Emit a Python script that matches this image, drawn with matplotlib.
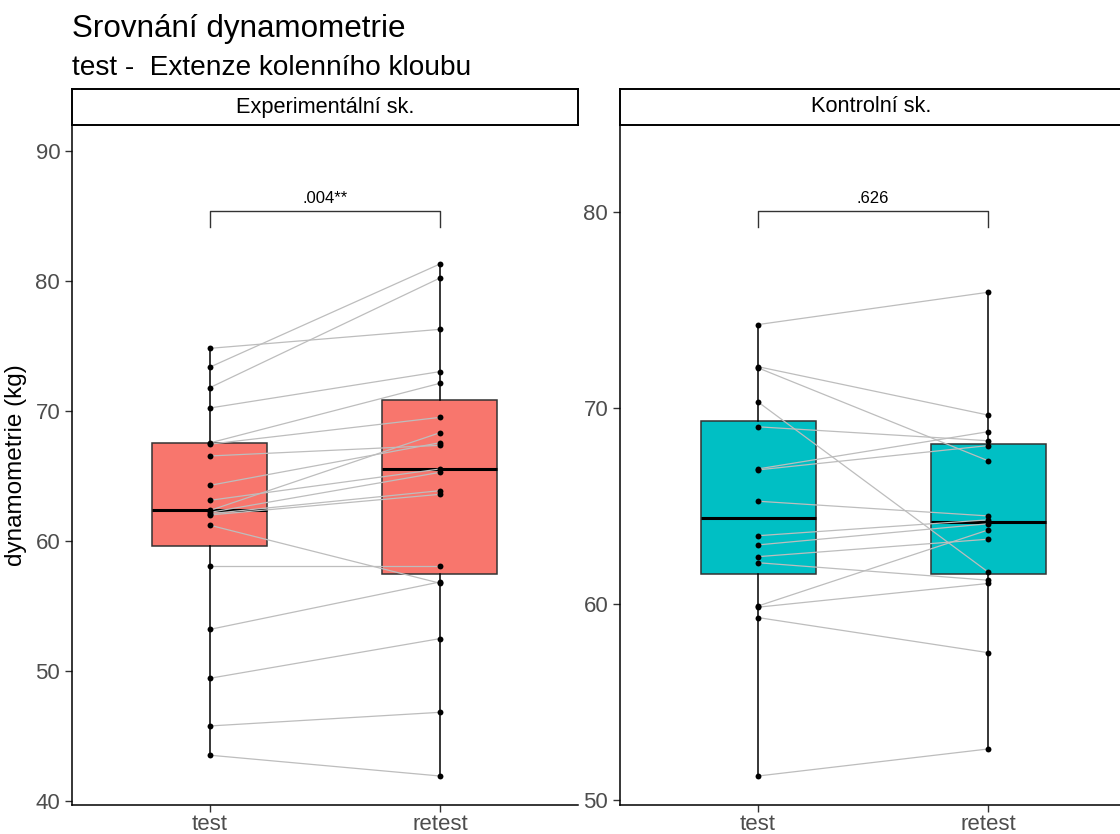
import matplotlib
matplotlib.use("Agg")
import matplotlib.pyplot as plt

plt.rcParams['font.family'] = ['Liberation Sans', 'DejaVu Sans']

# data: paired values (same index = same person)
group_names = ["Experimentální sk.", "Kontrolní sk."]
time_labels = ["test", "retest"]

exp_test = [74.82, 73.38, 71.80, 70.23, 67.55, 67.45, 66.54, 64.28, 63.13, 62.35,
            62.20, 62.10, 62.00, 61.21, 58.08, 53.20, 49.44, 45.77, 43.52]
exp_retest = [76.28, 81.31, 80.23, 73.03, 72.13, 69.51, 67.36, 67.56, 65.54, 68.33,
              65.28, 63.87, 63.59, 56.75, 58.08, 56.85, 52.49, 46.82, 41.92]

ctrl_test = [74.27, 72.12, 72.06, 70.32, 69.05, 66.90, 66.85, 65.25, 63.49, 63.02,
             62.42, 62.11, 59.90, 59.84, 59.31, 51.22]
ctrl_retest = [75.92, 69.65, 67.32, 61.64, 68.34, 68.80, 68.09, 64.50, 64.30, 64.10,
               63.31, 61.22, 63.78, 61.05, 57.52, 52.60]

p_labels = [".004**", ".626"]

# layout / style
colors = ["#F8766D", "#00BFC4"]
ylims = [(39.69, 92.0), (49.74, 84.46)]
yticks = [[40, 50, 60, 70, 80, 90], [50, 60, 70, 80]]
brackets = [(84.15, 85.4), (79.23, 80.07)]

W, H = 1120, 834
fig = plt.figure(figsize=(W / 100, H / 100), dpi=100)

panel_left = [72, 620]
panel_w = 506
top_px, bottom_px = 125, 805

data = [(exp_test, exp_retest), (ctrl_test, ctrl_retest)]

for i in range(2):
    left = panel_left[i] / W
    ax = fig.add_axes([left, 1 - bottom_px / H, panel_w / W, (bottom_px - top_px) / H])
    test, retest = data[i]

    ax.boxplot([test, retest], positions=[1, 2], widths=0.5, whis=(0, 100),
               patch_artist=True, showfliers=False, showcaps=False,
               boxprops=dict(facecolor=colors[i], edgecolor="#333333", linewidth=1.1),
               medianprops=dict(color="black", linewidth=2.2),
               whiskerprops=dict(color="black", linewidth=1.1),
               zorder=1)

    # paired lines
    for a, b in zip(test, retest):
        ax.plot([1, 2], [a, b], color="#BDBDBD", linewidth=0.9, zorder=2)
    ax.scatter([1] * len(test), test, s=18, color="black", zorder=3, linewidths=0)
    ax.scatter([2] * len(retest), retest, s=18, color="black", zorder=3, linewidths=0)

    # significance bracket
    y0, y1 = brackets[i]
    ax.plot([1, 1, 2, 2], [y0, y1, y1, y0], color="#333333", linewidth=1.0, zorder=2)
    ax.text(1.5, y1 + 0.35 * (ylims[i][1] - ylims[i][0]) / 52.3, p_labels[i],
            ha="center", va="bottom", fontsize=12, color="black")

    ax.set_xlim(0.4, 2.6)
    ax.set_ylim(*ylims[i])
    ax.set_xticks([1, 2])
    ax.set_xticklabels(time_labels)
    ax.set_yticks(yticks[i])
    ax.tick_params(axis="both", labelsize=16, labelcolor="#4D4D4D",
                   color="#333333", length=5, width=1)
    ax.tick_params(axis="x", pad=1.5)
    for s in ["top", "right"]:
        ax.spines[s].set_visible(False)
    for s in ["left", "bottom"]:
        ax.spines[s].set_color("black")
        ax.spines[s].set_linewidth(1.1)
    if i == 0:
        ax.set_ylabel("dynamometrie (kg)", fontsize=17.5, labelpad=6)

    # facet strip
    strip_w = (578 - 72) if i == 0 else panel_w
    sax = fig.add_axes([left, 1 - top_px / H, strip_w / W, 36 / H])
    sax.set_xticks([])
    sax.set_yticks([])
    for s in sax.spines.values():
        s.set_color("black")
        s.set_linewidth(1.4)
    sax.text(0.5 if i == 0 else 251 / panel_w, 0.5, group_names[i], ha="center",
             va="center", fontsize=15.7, transform=sax.transAxes)

fig.text(72 / W, 1 - 37 / H, "Srovnání dynamometrie", fontsize=22.6,
         ha="left", va="baseline")
fig.text(72 / W, 1 - 75 / H, "test -  Extenze kolenního kloubu", fontsize=20.2,
         ha="left", va="baseline")

fig.savefig("out.png", dpi=100)
